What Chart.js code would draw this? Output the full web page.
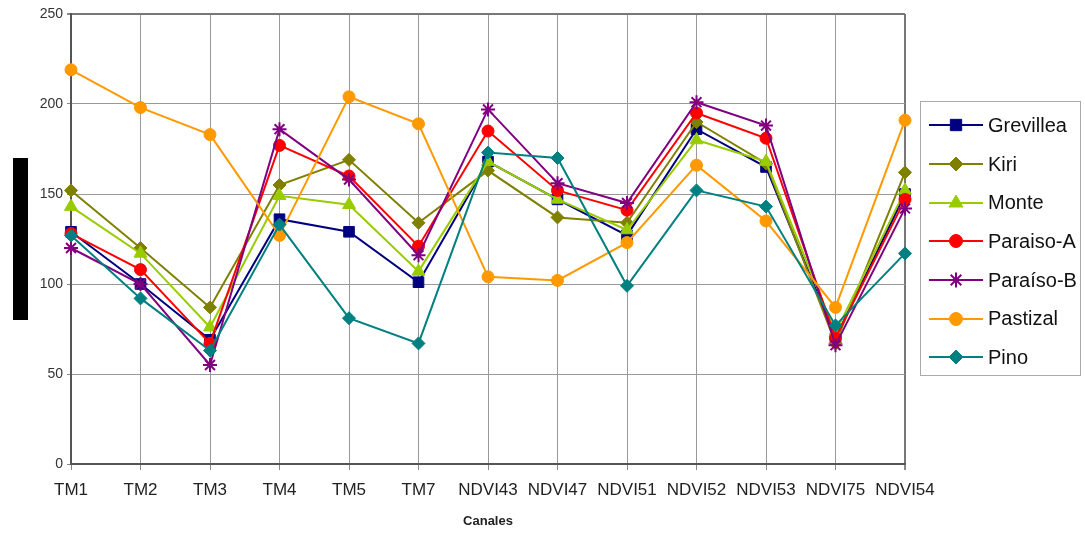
<!DOCTYPE html>
<html>
<head>
  <meta charset="utf-8">
  <title>Canales</title>
  <script src="https://cdn.jsdelivr.net/npm/chart.js"></script>
  <style>
    body {
      margin: 0;
      background: #fff;
      font-family: "Liberation Sans", Arial, sans-serif;
    }
    .wrap {
      position: relative;
      width: 1085px;
      height: 533px;
    }
    #legend {
      position: absolute;
      left: 920px;
      top: 101px;
      width: 161px;
      height: 275px;
      border: 1px solid #aaa;
      background: #fff;
      padding-top: 4px;
      box-sizing: border-box;
    }
    .item {
      display: flex;
      align-items: center;
      height: 38.7px;
    }
    .item canvas {
      margin-left: 8px;
      margin-right: 5px;
    }
    .item span {
      font-size: 20px;
      color: #111;
    }
  </style>
</head>
<body>
<div class="wrap">
  <canvas id="chart" width="1085" height="533"></canvas>
  <div id="legend"></div>
</div>

<script>
  // categories (channels)
  const canales = ['TM1', 'TM2', 'TM3', 'TM4', 'TM5', 'TM7', 'NDVI43', 'NDVI47', 'NDVI51', 'NDVI52', 'NDVI53', 'NDVI75', 'NDVI54'];

  // one array per cover type
  const grevillea = [129, 100, 69, 136, 129, 101, 168, 147, 127, 186, 165, 70, 150];
  const kiri      = [152, 120, 87, 155, 169, 134, 163, 137, 134, 190, 167, 67, 162];
  const monte     = [143, 117, 76, 149, 144, 107, 168, 147, 130, 180, 168, 73, 152];
  const paraisoA  = [128, 108, 67, 177, 160, 121, 185, 152, 141, 195, 181, 70, 147];
  const paraisoB  = [120, 100, 55, 186, 158, 116, 197, 156, 145, 201, 188, 66, 142];
  const pastizal  = [219, 198, 183, 127, 204, 189, 104, 102, 123, 166, 135, 87, 191];
  const pino      = [127, 92, 63, 133, 81, 67, 173, 170, 99, 152, 143, 77, 117];

  const yTicks = [0, 50, 100, 150, 200, 250];

  const series = [
    { label: 'Grevillea', data: grevillea, color: '#000080', style: 'rect', r: 7.5 },
    { label: 'Kiri', data: kiri, color: '#808000', style: 'rectRot', r: 6.5 },
    { label: 'Monte', data: monte, color: '#99cc00', style: 'triangle', r: 7.5 },
    { label: 'Paraiso-A', data: paraisoA, color: '#ff0000', style: 'circle', r: 6 },
    { label: 'Paraíso-B', data: paraisoB, color: '#800080', style: 'star', r: 7 },
    { label: 'Pastizal', data: pastizal, color: '#ff9900', style: 'circle', r: 6 },
    { label: 'Pino', data: pino, color: '#008080', style: 'rectRot', r: 6.5 }
  ];

  // black box standing where the y title would be
  const blackBox = {
    id: 'blackBox',
    beforeDraw(chart) {
      const c = chart.ctx;
      c.save();
      c.fillStyle = '#000';
      c.fillRect(13, 158, 15, 162);
      c.restore();
    }
  };

  const ctx = document.getElementById('chart').getContext('2d');
  const chart = new Chart(ctx, {
    type: 'line',
    data: {
      labels: canales,
      datasets: series.map((s, i) => ({
        label: s.label,
        data: s.data,
        borderColor: s.color,
        backgroundColor: s.color,
        pointBackgroundColor: s.color,
        pointBorderColor: s.color,
        pointStyle: s.style,
        pointRadius: s.r,
        pointBorderWidth: s.style === 'star' ? 2 : 1,
        borderWidth: 2,
        tension: 0,
        fill: false,
        order: series.length - i
      }))
    },
    options: {
      responsive: false,
      animation: false,
      layout: { padding: { top: 14, right: 180, left: 0, bottom: 0 } },
      plugins: {
        legend: { display: false },
        tooltip: { enabled: false }
      },
      scales: {
        x: {
          offset: false,
          grid: {
            color: (c) => c.index === canales.length - 1 ? '#777' : '#999',
            lineWidth: (c) => c.index === canales.length - 1 ? 2 : 1,
            tickLength: 6,
            tickColor: '#888'
          },
          border: { color: '#555', width: 2 },
          ticks: {
            font: { family: '"Liberation Sans", Arial', size: 17 },
            color: '#222',
            padding: 10,
            maxRotation: 0,
            autoSkip: false
          },
          title: {
            display: true,
            text: 'Canales',
            font: { family: '"Liberation Sans", Arial', size: 13, weight: 'bold' },
            color: '#222',
            padding: { top: 4, bottom: 4 }
          },
          afterFit(scale) { scale.height = 69; }
        },
        y: {
          min: 0,
          max: 250,
          afterBuildTicks(scale) { scale.ticks = yTicks.map(v => ({ value: v })); },
          grid: {
            color: (c) => c.tick && c.tick.value === 250 ? '#777' : '#999',
            lineWidth: (c) => c.tick && c.tick.value === 250 ? 2 : 1,
            tickLength: 4,
            tickColor: '#888'
          },
          border: { color: '#555', width: 2 },
          ticks: {
            font: { family: '"Liberation Sans", Arial', size: 14 },
            color: '#333',
            padding: 4
          },
          afterFit(scale) { scale.width = 71; }
        }
      }
    },
    plugins: [blackBox]
  });

  // html legend with line + marker
  const legend = document.getElementById('legend');
  series.forEach(s => {
    const row = document.createElement('div');
    row.className = 'item';
    const cv = document.createElement('canvas');
    cv.width = 54;
    cv.height = 20;
    const g = cv.getContext('2d');
    g.strokeStyle = s.color;
    g.fillStyle = s.color;
    g.lineWidth = 2;
    g.beginPath();
    g.moveTo(0, 10);
    g.lineTo(54, 10);
    g.stroke();
    g.lineWidth = s.style === 'star' ? 2 : 1;
    Chart.helpers.drawPoint(g, { pointStyle: s.style, radius: s.r + 0.5, rotation: 0, borderWidth: g.lineWidth }, 27, 10);
    const sp = document.createElement('span');
    sp.textContent = s.label;
    row.appendChild(cv);
    row.appendChild(sp);
    legend.appendChild(row);
  });
</script>
</body>
</html>
